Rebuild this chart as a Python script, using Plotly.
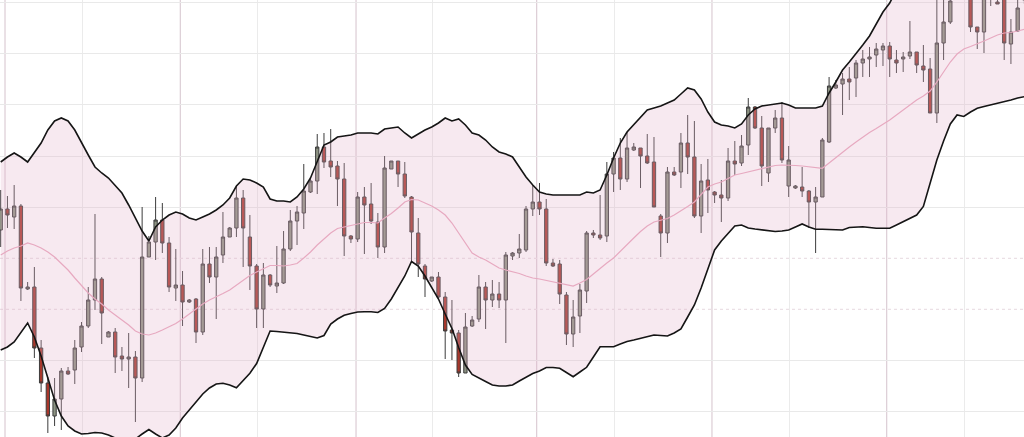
import plotly.graph_objects as go

# ---- data ----
idx = list(range(153))

open_ = [107.0,109.1,108.3,109.4,101.1,101.3,95.2,91.7,88.4,90.1,92.9,93.0,95.3,97.4,100.0,102.1,96.3,96.8,94.4,94.1,
         94.3,92.2,104.3,105.8,108.0,105.7,101.2,101.5,99.8,100.1,96.8,103.6,102.3,104.5,106.3,107.2,110.2,106.3,103.4,99.1,
         102.5,101.4,101.7,105.1,107.9,108.7,110.8,111.9,115.3,113.9,113.4,112.1,106.4,106.1,110.3,109.6,107.8,105.3,113.1,113.9,
         112.6,110.3,106.7,103.4,101.9,102.3,100.3,97.0,96.7,92.7,97.4,98.1,101.3,100.0,100.6,100.0,104.4,104.7,105.0,109.1,
         109.8,109.1,103.7,103.6,100.5,96.6,98.4,100.9,106.7,106.5,106.4,112.6,114.2,112.1,115.0,115.2,114.4,113.8,108.4,106.7,
         112.8,112.8,115.7,114.3,108.4,112.0,110.8,110.5,110.2,113.9,113.7,115.5,119.3,117.2,112.7,117.2,118.2,111.4,111.2,111.3,
         110.9,109.8,110.3,115.8,121.2,121.6,122.1,122.2,123.7,124.1,124.5,125.0,125.4,124.0,124.1,124.4,124.8,123.4,123.1,118.7,
         125.7,127.8,130.8,131.5,130.6,127.3,126.8,130.8,129.8,130.5,125.6,126.9,130.0]
high = [111.0,110.4,111.5,109.6,101.8,103.3,96.0,92.3,92.2,93.2,93.3,96.0,97.8,101.3,108.6,102.3,96.9,97.2,95.3,96.7,
        94.9,109.3,106.4,110.3,109.7,106.3,105.1,102.9,100.1,100.2,105.1,105.3,105.3,108.8,107.3,111.3,111.0,108.5,103.6,103.7,
        102.6,105.4,106.9,109.0,109.4,113.6,112.3,116.6,116.7,117.1,113.9,113.7,106.5,110.8,111.3,111.7,108.7,114.4,113.9,113.9,
        113.8,110.4,108.2,103.6,102.3,102.8,100.8,100.0,97.0,98.7,98.4,102.5,101.8,102.0,101.8,104.8,104.8,106.6,109.4,111.5,
        111.7,110.1,104.1,104.0,100.8,100.0,101.6,106.9,107.0,110.5,113.8,114.8,116.2,116.8,115.7,115.2,116.6,116.3,108.6,113.3,
        113.3,116.7,118.5,117.9,113.6,114.1,110.9,112.0,115.2,115.9,116.5,120.2,119.4,118.4,117.2,119.0,119.8,115.4,111.5,113.3,
        111.0,111.3,116.2,122.3,122.0,122.7,123.3,124.0,125.0,125.3,125.7,125.7,125.8,125.0,124.8,127.9,124.8,125.5,124.2,130.5,
        130.4,131.0,132.2,132.5,131.0,127.3,131.0,131.8,130.2,131.0,128.1,130.2,131.2]
low = [105.3,107.2,107.1,99.9,101.0,94.2,90.8,86.7,87.4,87.0,92.5,91.6,94.8,97.2,99.0,95.6,96.3,92.7,92.9,91.2,
       87.8,91.8,104.3,104.0,104.7,100.8,99.9,97.4,99.7,95.7,96.5,101.7,98.1,103.7,106.3,106.3,103.3,101.0,97.2,97.2,
       101.3,100.7,101.6,104.9,105.5,107.1,110.7,110.6,113.2,112.3,109.4,104.4,105.7,105.8,104.6,107.6,104.2,104.7,113.1,111.3,
       110.2,103.8,102.3,100.3,101.8,100.1,94.1,94.0,92.3,92.7,97.3,97.8,97.1,99.3,99.2,95.7,104.0,104.2,104.8,108.4,
       108.5,103.4,103.3,99.6,95.5,95.3,96.7,99.7,106.2,106.0,105.8,110.8,111.0,111.8,114.9,111.2,113.6,109.3,104.3,105.7,
       112.4,111.2,112.6,108.2,106.7,108.7,109.7,107.8,109.9,112.5,113.4,114.5,117.1,111.4,111.8,116.7,113.7,110.3,111.1,110.3,
       107.2,104.7,110.3,115.7,121.1,118.5,120.0,120.3,122.3,122.3,123.3,123.4,122.3,122.7,122.8,124.1,122.7,121.8,118.7,117.7,
       124.0,127.6,130.4,130.5,126.8,125.1,124.7,129.4,129.6,124.0,123.6,126.8,129.6]
close = [109.1,108.5,109.4,101.2,101.3,95.2,91.7,88.4,90.1,92.9,92.6,95.2,97.4,100.0,102.1,98.7,96.8,94.3,94.1,94.3,
         92.2,104.3,105.8,108.0,105.7,101.3,101.5,99.8,100.0,96.8,103.6,102.3,104.3,106.3,107.2,110.2,107.2,103.4,99.1,102.5,
         101.5,101.7,105.1,107.9,108.8,110.9,111.9,115.3,113.8,113.3,112.1,106.4,106.1,110.3,109.5,107.9,105.3,113.2,113.9,112.6,
         110.4,106.8,103.6,102.1,102.3,100.3,96.9,96.7,92.7,97.3,98.0,101.3,100.0,100.6,100.0,104.5,104.7,105.1,109.1,109.8,
         109.1,103.7,103.4,100.6,96.6,98.3,101.0,106.7,106.5,106.2,112.6,114.2,112.1,115.2,115.3,114.4,113.7,109.3,106.7,112.8,
         112.5,115.7,114.3,108.4,111.9,111.0,110.5,110.2,113.9,113.6,115.4,119.3,117.2,113.4,117.2,118.2,114.0,114.0,111.4,110.9,
         109.8,110.3,116.0,121.4,121.5,122.1,121.8,123.7,124.1,124.3,125.1,125.4,124.1,123.7,124.3,124.8,123.5,123.0,118.7,125.7,
         127.8,129.9,131.6,131.0,127.3,126.8,130.5,131.2,129.6,125.7,126.8,129.2,130.8]

band_upper = [113.8,114.3,114.7,114.3,113.8,114.7,115.7,117.0,117.9,118.2,117.9,117.0,115.7,114.5,113.3,112.7,112.2,111.5,110.7,109.5,
              108.2,106.9,105.9,107.3,108.0,108.5,108.8,108.6,108.2,108.0,108.3,108.6,109.0,109.5,110.2,111.4,112.1,112.0,111.7,111.3,
              110.1,109.9,109.9,109.8,110.3,111.1,112.2,113.8,115.5,115.8,116.3,116.4,116.5,116.7,116.7,116.7,116.6,117.1,117.2,117.3,
              116.7,116.2,116.6,117.0,117.3,117.7,118.2,117.9,118.1,117.5,116.7,116.5,116.0,115.3,114.8,114.6,114.3,113.3,112.3,111.5,
              110.8,110.6,110.5,110.5,110.5,110.5,110.5,110.8,110.7,111.0,112.5,114.2,115.7,116.8,117.5,118.3,119.0,119.2,119.4,119.7,
              120.0,120.6,121.2,121.0,120.1,118.8,117.8,117.5,117.4,117.2,117.6,118.5,119.1,119.4,119.5,119.6,119.7,119.5,119.2,119.2,
              119.2,119.2,119.4,120.7,121.8,123.0,123.8,124.6,125.5,126.4,127.6,128.8,129.7,131.0,131.7,132.4,133.0,133.0,131.6,131.1,
              131.2,131.5,132.2,133.4,133.4,133.5,134.0,134.4,134.9,135.1,135.0,135.1,135.2]
band_mid = [104.5,104.9,105.2,105.4,105.7,105.5,105.2,104.8,104.3,103.7,103.0,102.2,101.4,100.7,100.1,99.6,99.0,98.5,98.0,97.5,
            96.9,96.6,96.5,96.7,97.0,97.3,97.65,98.1,98.6,99.1,99.6,100.0,100.3,100.65,101.0,101.5,102.0,102.45,102.8,103.15,
            103.45,103.45,103.4,103.5,103.65,104.2,104.8,105.5,106.1,106.7,107.15,107.3,107.4,107.6,107.75,107.75,107.7,108.2,108.65,109.2,
            109.8,110.05,110.0,109.7,109.4,109.0,108.5,107.7,106.7,105.7,104.7,104.3,104.0,103.6,103.2,103.0,102.85,102.65,102.4,102.2,
            102.1,101.95,101.85,101.7,101.55,101.4,101.7,102.05,102.6,103.2,103.7,104.2,104.9,105.55,106.2,106.85,107.4,107.8,108.0,108.15,
            108.5,108.9,109.35,109.8,110.55,111.3,111.6,111.8,112.15,112.5,112.65,112.8,113.0,113.15,113.3,113.45,113.5,113.5,113.45,113.4,
            113.3,113.2,113.17,113.7,114.25,114.8,115.3,115.8,116.3,116.75,117.15,117.55,118.0,118.5,119.0,119.5,120.0,120.4,120.9,121.8,
            122.8,123.8,124.6,125.1,125.35,125.6,125.9,126.2,126.5,126.7,126.75,126.9,127.07]
band_lower = [95.0,95.3,95.8,96.7,97.7,96.3,94.4,92.2,90.0,88.4,87.4,86.9,86.6,86.65,86.75,86.7,86.5,86.2,85.9,85.9,
              86.1,86.6,87.05,86.6,86.2,86.5,87.2,88.2,89.0,89.9,90.6,91.2,91.6,91.67,91.5,91.23,91.9,92.67,93.65,95.33,
              96.9,96.85,96.8,96.77,96.65,96.5,96.35,96.2,96.45,97.6,98.1,98.47,98.65,98.8,98.82,98.83,98.75,99.15,100.1,101.25,
              102.4,103.85,103.4,102.4,101.25,100.1,98.6,97.15,95.25,93.5,92.55,92.17,91.85,91.5,91.4,91.4,91.5,91.9,92.3,92.65,
              92.9,93.25,93.25,93.17,92.75,92.33,92.8,93.27,94.3,95.33,95.33,95.33,95.6,95.85,96.0,96.17,96.35,96.5,96.45,96.4,
              96.7,97.1,98.3,99.5,101.2,103.0,105.0,105.9,106.6,107.4,107.5,107.2,107.1,107.0,106.95,106.85,106.9,107.0,107.3,107.6,
              107.3,107.07,107.07,107.07,107.05,107.0,107.25,107.3,107.33,107.25,107.17,107.17,107.17,107.5,107.83,108.15,108.5,109.35,111.7,114.0,
              115.9,117.6,118.5,118.35,118.8,119.17,119.35,119.5,119.65,119.8,120.0,120.2,120.33]

# grid positions (axis units)
grid_x_major = [0.64, 26.67, 52.76, 79.58, 105.61, 131.55]
grid_x_minor = [12.18, 38.10, 64.14, 91.21, 117.19, 143.13]
grid_y_solid = [129.73, 124.62, 119.51, 114.40, 109.28, 93.95, 88.83]
grid_y_dotted = [104.17, 99.06]

fig = go.Figure()

fig.add_trace(go.Scatter(x=idx, y=band_lower, mode="lines",
                         line=dict(color="#151515", width=1.6), hoverinfo="skip", showlegend=False))
fig.add_trace(go.Scatter(x=idx, y=band_upper, mode="lines", fill="tonexty",
                         fillcolor="rgba(228,175,202,0.28)",
                         line=dict(color="#151515", width=1.6), hoverinfo="skip", showlegend=False))
fig.add_trace(go.Scatter(x=idx, y=band_mid, mode="lines",
                         line=dict(color="#e7a9c0", width=1.2), hoverinfo="skip", showlegend=False))

fig.add_trace(go.Candlestick(
    x=idx, open=open_, high=high, low=low, close=close,
    increasing=dict(fillcolor="#8c9282", line=dict(color="#3c3c3c", width=1)),
    decreasing=dict(fillcolor="#a8372b", line=dict(color="#3c3c3c", width=1)),
    whiskerwidth=0, showlegend=False))

shapes = []
for gx in grid_x_major:
    shapes.append(dict(type="line", xref="x", yref="paper", x0=gx, x1=gx, y0=0, y1=1,
                       line=dict(color="#dccdd5", width=1.2), layer="below"))
for gy in grid_y_dotted:
    shapes.append(dict(type="line", xref="paper", yref="y", x0=0, x1=1, y0=gy, y1=gy,
                       line=dict(color="#ebe0e5", width=1.2, dash="dot"), layer="below"))

fig.update_layout(
    width=1024, height=437,
    margin=dict(l=0, r=0, t=0, b=0),
    paper_bgcolor="white", plot_bgcolor="white",
    shapes=shapes,
    xaxis=dict(range=[-0.104, 151.94], tickvals=grid_x_minor, showticklabels=False,
               showgrid=True, gridcolor="#ebebeb", gridwidth=1.2, zeroline=False,
               showline=False, rangeslider=dict(visible=False), fixedrange=True),
    yaxis=dict(range=[86.3, 130.0], tickvals=grid_y_solid, showticklabels=False,
               showgrid=True, gridcolor="#e9e9e9", gridwidth=1.2, zeroline=False,
               showline=False, fixedrange=True),
)

fig.write_html("out.html", config={"displayModeBar": False},
               post_script="document.body.style.margin='0px';document.body.style.overflow='hidden';")
